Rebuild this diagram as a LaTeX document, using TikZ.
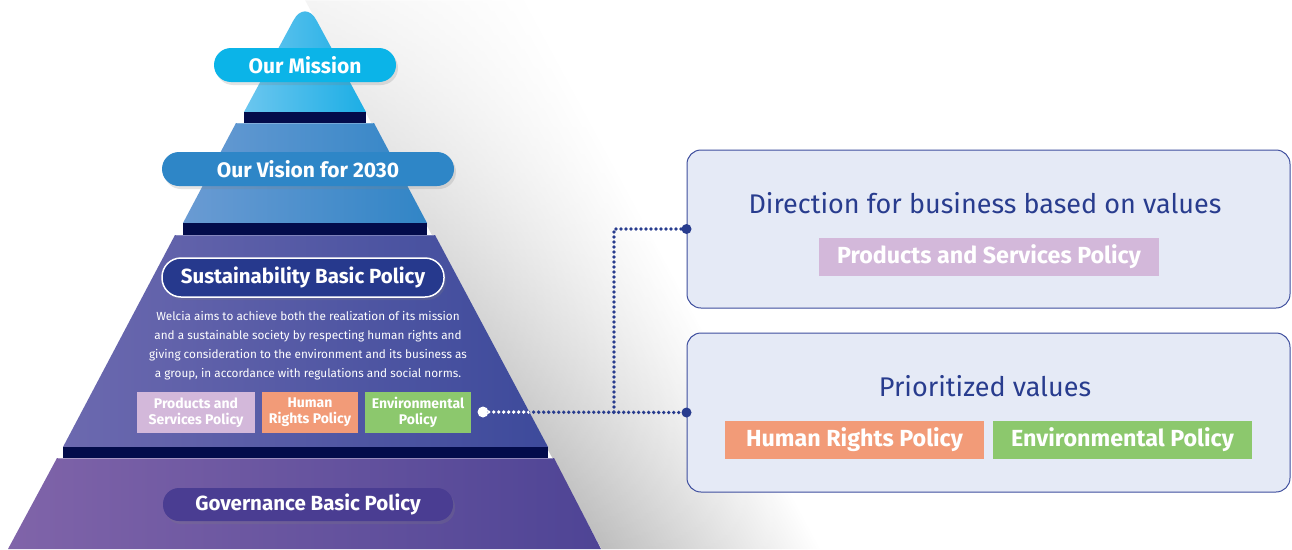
\documentclass[tikz,border=0pt]{standalone}
\usepackage{fontspec}
\setmainfont{Fira Sans}
\usetikzlibrary{shadows,fadings}
\definecolor{misA}{HTML}{6BC6EF}
\definecolor{misB}{HTML}{1CAEE5}
\definecolor{misPill}{HTML}{0BB4E8}
\definecolor{visA}{HTML}{6A9BD3}
\definecolor{visB}{HTML}{3185C6}
\definecolor{visPill}{HTML}{2E86C7}
\definecolor{susA}{HTML}{6C69AF}
\definecolor{susB}{HTML}{3D4A9B}
\definecolor{susPill}{HTML}{26398D}
\definecolor{govA}{HTML}{8064A9}
\definecolor{govB}{HTML}{4E4495}
\definecolor{govPill}{HTML}{4A3D92}
\definecolor{band}{HTML}{030C4B}
\definecolor{lilac}{HTML}{D3B8DA}
\definecolor{salmon}{HTML}{F29B78}
\definecolor{leaf}{HTML}{8CC86D}
\definecolor{boxfill}{HTML}{E5EAF6}
\definecolor{boxline}{HTML}{3E4E9E}
\definecolor{navy}{HTML}{283C8E}
\tikzfading[name=shfade, top color=transparent!85, bottom color=transparent!5]
\begin{document}
\begin{tikzpicture}[x=1pt,y=-1pt,
  pill/.style={rounded corners=#1, minimum width=0pt, inner sep=0pt, text=white,
    font=\bfseries\fontsize{21}{21}\selectfont,
    drop shadow={shadow xshift=2pt, shadow yshift=-3pt, opacity=0.22}},
  tag/.style={inner sep=0pt, text=white, align=center,
    font=\bfseries\fontsize{14}{16}\selectfont},
  bigtag/.style={inner sep=0pt, text=white, minimum height=38pt,
    font=\bfseries\fontsize{23.3}{23.3}\selectfont},
  panel/.style={draw=boxline, line width=1pt, fill=boxfill, rounded corners=14pt,
    minimum width=603pt, inner sep=0pt},
  title/.style={text=navy, font=\fontsize{27}{27}\selectfont, inner sep=0pt},
  conn/.style={draw=navy, line width=3.8pt, line cap=round, dash pattern=on 0pt off 5pt},
  enddot/.style={circle, fill=navy, inner sep=0pt, minimum size=10pt}]
\useasboundingbox (0,0) rectangle (1292,549);
\fill[white] (0,0) rectangle (1292,549);

% cast shadow of the pyramid
\begin{scope}[transform canvas={xslant=-0.54}]
  \shade[left color=black!27, right color=white, path fading=shfade]
    (305,0) rectangle (525,549);
\end{scope}

% pyramid tiers
\shade[left color=misA, right color=misB]
  (244,112) [rounded corners=24pt] -- (305,-1) [sharp corners] -- (366,112) -- cycle;
\fill[band] (244,112) rectangle (366,123);
\shade[left color=visA, right color=visB]
  (236,123) -- (374,123) -- (427,223) -- (183,223) -- cycle;
\fill[band] (183,223) rectangle (427,235);
\shade[left color=susA, right color=susB]
  (175,235) -- (435,235) -- (548,447) -- (63,447) -- cycle;
\fill[band] (63,447) rectangle (548,458);
\shade[left color=govA, right color=govB]
  (57,458) -- (554,458) -- (601,549) -- (8,549) -- cycle;
\draw[white, opacity=0.35, line width=1pt] (58,458.5) -- (553,458.5);
\draw[white, opacity=0.25, line width=1pt] (176,235.5) -- (434,235.5);
\draw[white, opacity=0.25, line width=1pt] (237,123.5) -- (373,123.5);

% pills
\node[pill=17pt, fill=misPill, minimum width=182pt, minimum height=34pt]
  (mission) at (305,65) {Our Mission};
\node[pill=17pt, fill=visPill, minimum width=292pt, minimum height=34pt]
  (vision) at (308,169) {Our Vision for 2030};
\node[pill=19pt, fill=susPill, draw=white, line width=1.5pt, minimum width=282pt,
  minimum height=39pt, font=\bfseries\fontsize{20.5}{20.5}\selectfont]
  (sust) at (303,277.5) {Sustainability Basic Policy};
\node[pill=16pt, fill=govPill, minimum width=290pt, minimum height=33pt,
  font=\bfseries\fontsize{20.5}{20.5}\selectfont]
  (gov) at (308,504.5) {Governance Basic Policy};

% description
\node[text=white, align=center, inner sep=0pt, font=\fontsize{11.75}{19}\selectfont]
  (desc) at (308,346) {Welcia aims to achieve both the realization of its mission\\
  and a sustainable society by respecting human rights and\\
  giving consideration to the environment and its business as\\
  a group, in accordance with regulations and social norms.};

% small policy tags
\node[tag, fill=lilac, minimum width=118pt, minimum height=41pt]
  (t1) at (196,412.5) {Products and\\Services Policy};
\node[tag, fill=salmon, minimum width=96pt, minimum height=41pt]
  (t2) at (310,412.5) {Human\\Rights Policy};
\node[tag, fill=leaf, minimum width=106pt, minimum height=41pt]
  (t3) at (418,412.5) {Environmental\\Policy};
\node[circle, fill=white, inner sep=0pt, minimum size=11pt] (wd) at (483,412) {};

% right panels
\node[panel, minimum height=158pt] (B1) at (988.5,229) {};
\node[panel, minimum height=159pt] (B2) at (988.5,412.5) {};
\node[title] (T1) at (985,203) {Direction for business based on values};
\node[bigtag, fill=lilac, minimum width=340pt] (P1) at (989,257) {Products and Services Policy};
\node[title] (T2) at (985,386) {Prioritized values};
\node[bigtag, fill=salmon, minimum width=259pt] (P2) at (854.5,440) {Human Rights Policy};
\node[bigtag, fill=leaf, minimum width=259pt] (P3) at (1122.5,440) {Environmental Policy};

% connectors
\coordinate (j) at (614,412);
\draw[conn] (wd) -- (B2.west);
\draw[conn] (j) |- (B1.west);
\begin{scope}
  \clip (175,235) -- (435,235) -- (548,447) -- (63,447) -- cycle;
  \draw[conn, draw=white] (wd) -- (B2.west);
\end{scope}
\node[enddot] (e1) at (B1.west) {};
\node[enddot] (e2) at (B2.west) {};
\end{tikzpicture}
\end{document}
